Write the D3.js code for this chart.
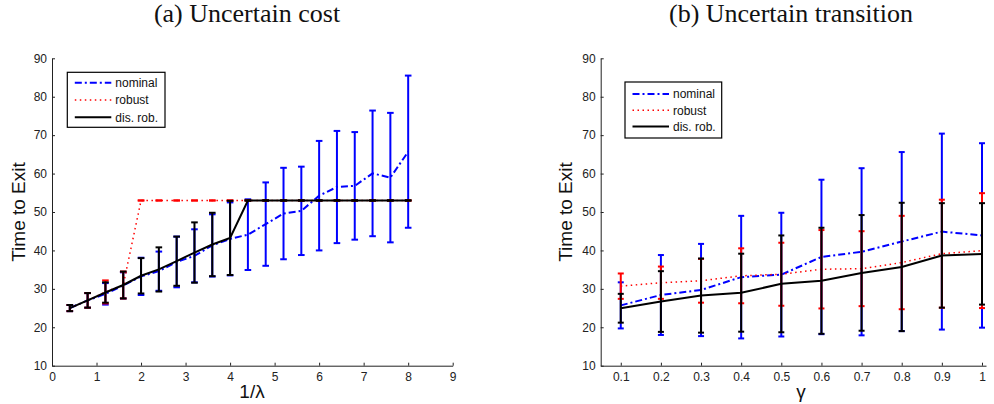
<!DOCTYPE html>
<html>
<head>
<meta charset="utf-8">
<script src="https://cdn.jsdelivr.net/npm/d3@7"></script>
<style>
  html, body { margin: 0; padding: 0; background: #fff; }
  svg { display: block; }
</style>
</head>
<body>
<svg id="chart" width="994" height="404"></svg>
<script>
// ---------- Panel (a): Uncertain cost ----------
const xA = [0.4, 0.8, 1.2, 1.6, 2.0, 2.4, 2.8, 3.2, 3.6, 4.0, 4.4, 4.8, 5.2, 5.6, 6.0, 6.4, 6.8, 7.2, 7.6, 8.0];
const nominalA    = [25.0, 27.0, 28.7, 30.9, 33.25, 34.6, 37.0, 38.6, 41.3, 43.0, 44.1, 46.85, 49.6, 50.3, 54.25, 56.5, 56.8, 60.05, 58.95, 65.7];
const nominalAErr = [0.8, 1.9, 2.8, 3.4, 4.85, 5.1, 6.6, 6.9, 8.1, 9.5, 9.2, 10.85, 11.9, 11.5, 14.25, 14.6, 14.0, 16.35, 16.85, 19.8];
const robustA     = [25.0, 27.0, 29.2, 31.0, 53, 53, 53, 53, 53, 53, 53, 53, 53, 53, 53, 53, 53, 53, 53, 53];
const robustAErr  = [0.8, 1.9, 3.0, 3.5, 0, 0, 0, 0, 0, 0, 0, 0, 0, 0, 0, 0, 0, 0, 0, 0];
const disRobA     = [25.0, 27.0, 29.05, 31.0, 33.4, 35.05, 37.2, 39.45, 41.55, 43.25, 53, 53, 53, 53, 53, 53, 53, 53, 53, 53];
const disRobAErr  = [0.8, 1.9, 2.65, 3.5, 4.6, 5.75, 6.4, 7.85, 8.25, 9.65, 0, 0, 0, 0, 0, 0, 0, 0, 0, 0];
const xTicksA = [0, 1, 2, 3, 4, 5, 6, 7, 8, 9];

// ---------- Panel (b): Uncertain transition ----------
const xB = [0.1, 0.2, 0.3, 0.4, 0.5, 0.6, 0.7, 0.8, 0.9, 1.0];
const nominalB    = [25.7, 28.4, 29.7, 33.05, 33.7, 38.3, 39.65, 42.3, 44.9, 43.9];
const nominalBErr = [6.0, 10.4, 12.0, 15.95, 16.1, 20.1, 21.75, 23.3, 25.5, 24.0];
const robustB     = [30.7, 31.6, 32.1, 33.4, 33.8, 35.1, 35.25, 36.85, 39.15, 39.95];
const robustBErr  = [3.3, 4.2, 5.7, 7.15, 8.2, 10.2, 9.75, 12.15, 14.05, 14.95];
const disRobB     = [24.95, 26.7, 28.25, 29.0, 31.3, 32.1, 34.15, 35.7, 38.7, 39.1];
const disRobBErr  = [3.75, 7.9, 9.65, 10.15, 12.6, 13.8, 15.05, 16.7, 13.6, 13.2];
const xTicksB = [0.1, 0.2, 0.3, 0.4, 0.5, 0.6, 0.7, 0.8, 0.9, 1.0];

const yTicks = [10, 20, 30, 40, 50, 60, 70, 80, 90];
const seriesNames = ["nominal", "robust", "dis. rob."];
const titles = ["(a) Uncertain cost", "(b) Uncertain transition"];
const xLabels = ["1/λ", "γ"];
const yLabel = "Time to Exit";

const styles = [
  { color: "#0000ff", width: 2,   dash: "7,3,2,3" },
  { color: "#ff0000", width: 1.5, dash: "1.5,3.5" },
  { color: "#000000", width: 2,   dash: null }
];

const svg = d3.select("#chart");

function drawPanel(cfg) {
  const g = svg.append("g");
  const x = d3.scaleLinear().domain(cfg.xDomain).range([cfg.left, cfg.right]);
  const y = d3.scaleLinear().domain([10, 90]).range([365.7, 58.3]);

  // series: nominal, robust, dis. rob.
  cfg.series.forEach((s, si) => {
    const st = styles[si];
    const sg = g.append("g");
    const pts = cfg.xs.map((xv, i) => ({ x: xv, m: s.mean[i], e: s.err[i] }));
    // error bars
    const cap = cfg.cap;
    pts.forEach(p => {
      const px = x(p.x), y0 = y(p.m - p.e), y1 = y(p.m + p.e);
      sg.append("line").attr("x1", px).attr("x2", px).attr("y1", y0).attr("y2", y1)
        .attr("stroke", st.color).attr("stroke-width", 2);
      [y0, y1].forEach(yy => {
        sg.append("line").attr("x1", px - cap).attr("x2", px + cap).attr("y1", yy).attr("y2", yy)
          .attr("stroke", st.color).attr("stroke-width", 2);
      });
    });
    // mean line
    const line = d3.line().x(p => x(p.x)).y(p => y(p.m));
    sg.append("path").attr("d", line(pts)).attr("fill", "none")
      .attr("stroke", st.color).attr("stroke-width", st.width)
      .attr("stroke-dasharray", st.dash);
  });

  // axes
  const xAxis = d3.axisBottom(x).tickValues(cfg.xTicks).tickSizeInner(-3).tickSizeOuter(0)
    .tickPadding(7).tickFormat(cfg.xFormat);
  const yAxis = d3.axisLeft(y).tickValues(yTicks).tickSizeInner(-3).tickSizeOuter(0)
    .tickPadding(5).tickFormat(d3.format("d"));
  const gx = g.append("g").attr("transform", `translate(0,${y(10)})`).call(xAxis);
  const gy = g.append("g").attr("transform", `translate(${cfg.left},0)`).call(yAxis);
  [gx, gy].forEach(a => {
    a.selectAll("path, line").attr("stroke", "#222").attr("stroke-width", 1);
    a.selectAll("text").attr("font-family", "Liberation Sans, Arial, sans-serif")
      .attr("font-size", 12).attr("fill", "#222");
  });

  // title
  g.append("text").attr("x", cfg.titleX).attr("y", 21.5).attr("text-anchor", "middle")
    .attr("font-family", "Liberation Serif, Times New Roman, serif").attr("font-size", 26)
    .attr("fill", "#111").text(cfg.title);
  // x label
  g.append("text").attr("x", cfg.xLabelX).attr("y", 398).attr("text-anchor", "middle")
    .attr("font-family", "Liberation Sans, Arial, sans-serif").attr("font-size", 19)
    .attr("fill", "#111").text(cfg.xLabel);
  // y label
  g.append("text").attr("transform", `translate(${cfg.yLabelX},${y(50)}) rotate(-90)`)
    .attr("text-anchor", "middle")
    .attr("font-family", "Liberation Sans, Arial, sans-serif").attr("font-size", 19)
    .attr("fill", "#111").text(yLabel);

  // legend
  const L = cfg.legend;
  const lg = g.append("g");
  lg.append("rect").attr("x", L.x).attr("y", L.y).attr("width", L.w).attr("height", L.h)
    .attr("fill", "#fff").attr("stroke", "#000").attr("stroke-width", 1.2);
  seriesNames.forEach((name, i) => {
    const st = styles[i];
    const yy = L.y + L.row0 + i * L.dy;
    lg.append("line").attr("x1", L.x + 7.5).attr("x2", L.x + 44).attr("y1", yy).attr("y2", yy)
      .attr("stroke", st.color).attr("stroke-width", st.width).attr("stroke-dasharray", st.dash);
    lg.append("text").attr("x", L.x + 48).attr("y", yy + 4.2)
      .attr("font-family", "Liberation Sans, Arial, sans-serif").attr("font-size", 12)
      .attr("fill", "#111").text(name);
  });
}

drawPanel({
  xDomain: [0, 9], left: 52, right: 452.7, xs: xA, xTicks: xTicksA,
  xFormat: d3.format("d"), cap: 3.3,
  series: [
    { mean: nominalA, err: nominalAErr },
    { mean: robustA, err: robustAErr },
    { mean: disRobA, err: disRobAErr }
  ],
  title: titles[0], titleX: 247, xLabel: xLabels[0], xLabelX: 252, yLabelX: 25,
  legend: { x: 67.3, y: 72.3, w: 97.7, h: 55, row0: 10.4, dy: 17.3 }
});

drawPanel({
  xDomain: [0.05, 1.01], left: 600.7, right: 986, xs: xB, xTicks: xTicksB,
  xFormat: d => d3.format("")(+d.toFixed(1)), cap: 3,
  series: [
    { mean: nominalB, err: nominalBErr },
    { mean: robustB, err: robustBErr },
    { mean: disRobB, err: disRobBErr }
  ],
  title: titles[1], titleX: 791, xLabel: xLabels[1], xLabelX: 801, yLabelX: 571.7,
  legend: { x: 625, y: 82, w: 96.7, h: 56, row0: 12, dy: 16.3 }
});
</script>
</body>
</html>
